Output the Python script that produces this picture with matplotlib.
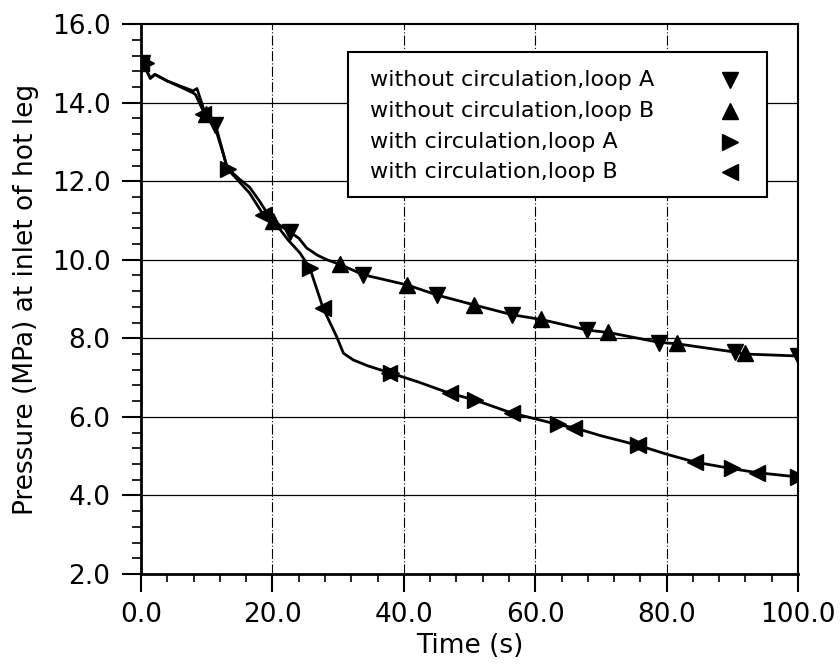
import numpy as np
import matplotlib.pyplot as plt
from matplotlib.patches import Rectangle

# pressure curves
t_without = [0, 0.6, 1.4, 2.1, 4.0, 6.0, 7.9, 8.5, 9.7, 11.3, 12.2, 13.1, 15.0, 16.5,
             18.0, 19.6, 20.5, 22.7, 24.0, 25.2, 26.8, 28.3, 30.3, 33.8, 40.5, 45.1,
             50.7, 56.5, 60.9, 67.9, 71.1, 78.8, 81.6, 90.4, 92.0, 100.0]
p_without = [15.05, 14.9, 14.62, 14.72, 14.55, 14.42, 14.3, 14.36, 13.75, 13.45, 12.9,
             12.33, 12.05, 11.85, 11.5, 11.08, 10.95, 10.7, 10.55, 10.3, 10.12, 10.0,
             9.88, 9.62, 9.36, 9.1, 8.85, 8.6, 8.48, 8.21, 8.15, 7.9, 7.86, 7.65, 7.6, 7.55]

t_with = [0, 0.6, 1.4, 2.1, 4.0, 6.0, 7.9, 8.3, 9.7, 11.3, 12.5, 13.2, 14.6, 16.5,
          18.6, 20.1, 22.4, 24.2, 25.7, 27.7, 29.8, 30.8, 32.3, 34.5, 37.9, 42.0,
          47.0, 50.8, 56.4, 60.0, 63.6, 66.0, 70.0, 75.6, 80.0, 84.3, 90.0, 93.8, 100.0]
p_with = [15.05, 14.9, 14.62, 14.72, 14.55, 14.4, 14.25, 14.2, 13.7, 13.35, 12.7,
          12.3, 12.05, 11.7, 11.15, 11.0, 10.5, 10.17, 9.78, 8.77, 8.03, 7.62, 7.45,
          7.3, 7.12, 6.9, 6.6, 6.43, 6.1, 5.95, 5.8, 5.72, 5.52, 5.28, 5.05, 4.85,
          4.68, 4.58, 4.47]

# marker positions for each series
t_mk_woA = [0.2, 11.3, 22.7, 33.8, 45.1, 56.5, 67.9, 78.8, 90.4, 100.0]
p_mk_woA = [15.0, 13.43, 10.7, 9.62, 9.1, 8.6, 8.21, 7.88, 7.64, 7.56]
t_mk_woB = [0, 9.9, 20.1, 30.3, 40.5, 50.7, 60.9, 71.1, 81.6, 92.0]
p_mk_woB = [15.0, 13.7, 11.0, 9.88, 9.36, 8.85, 8.49, 8.16, 7.87, 7.62]
t_mk_wA = [0.7, 13.2, 25.7, 38.0, 50.8, 63.5, 75.6, 90.0, 100.0]
p_mk_wA = [15.0, 12.3, 9.78, 7.12, 6.43, 5.82, 5.28, 4.69, 4.47]
t_mk_wB = [0, 9.4, 18.6, 27.7, 37.8, 47.0, 56.4, 65.9, 75.6, 84.3, 93.8]
p_mk_wB = [15.0, 13.72, 11.13, 8.77, 7.12, 6.6, 6.1, 5.72, 5.28, 4.85, 4.57]

labels = ["without circulation,loop A", "without circulation,loop B",
          "with circulation,loop A", "with circulation,loop B"]
markers = ["v", "^", ">", "<"]

plt.rcParams['font.family'] = 'DejaVu Sans'

fig = plt.figure(figsize=(8.4, 6.7), dpi=100)
ax = fig.add_axes([0.168, 0.1433, 0.782, 0.8207])

ax.plot(t_without, p_without, color='black', lw=2.0)
ax.plot(t_with, p_with, color='black', lw=2.0)

mk_sets = [(t_mk_woA, p_mk_woA), (t_mk_woB, p_mk_woB), (t_mk_wA, p_mk_wA), (t_mk_wB, p_mk_wB)]
for (tt, pp), m in zip(mk_sets, markers):
    ax.plot(tt, pp, ls='none', marker=m, ms=11, color='black', clip_on=True)

ax.set_xlim(0, 100)
ax.set_ylim(2, 16)
ax.set_xticks(np.arange(0, 101, 20))
ax.set_xticks(np.arange(0, 101, 4), minor=True)
ax.set_yticks(np.arange(2, 16.1, 2))
ax.set_yticks(np.arange(2, 16.1, 0.4), minor=True)
ax.set_xticklabels([f"{v:.1f}" for v in np.arange(0, 101, 20)])
ax.set_yticklabels([f"{v:.1f}" for v in np.arange(2, 16.1, 2)])

ax.tick_params(axis='both', which='major', labelsize=19, direction='out', width=1.5, color='black')
ax.tick_params(axis='y', which='major', length=14, pad=8)
ax.tick_params(axis='x', which='major', length=13, pad=7)
ax.tick_params(axis='y', which='minor', length=6.5, width=1.2, direction='out')
ax.tick_params(axis='x', which='minor', length=5.5, width=1.2, direction='out')

for y in np.arange(4, 15, 2):
    ax.axhline(y, color='black', lw=0.9, zorder=0)
for x in np.arange(20, 81, 20):
    ax.axvline(x, color='black', lw=0.8, ls=(0, (9, 2, 1, 2)), zorder=0)

for side in ['left', 'bottom']:
    ax.spines[side].set_linewidth(2.0)
for side in ['top', 'right']:
    ax.spines[side].set_linewidth(1.5)

ax.set_xlabel("Time (s)", fontsize=19, labelpad=4)
ax.set_ylabel("Pressure (MPa) at inlet of hot leg", fontsize=19, labelpad=9)

# legend box drawn by hand: text left aligned, marker at the right
ax.add_patch(Rectangle((0.315, 0.685), 0.638, 0.264, transform=ax.transAxes,
                       facecolor='white', edgecolor='black', lw=1.5, zorder=5))
row_y = [0.898, 0.842, 0.786, 0.731]
for lab, m, ry in zip(labels, markers, row_y):
    ax.text(0.349, ry, lab, transform=ax.transAxes, fontsize=16,
            va='center', ha='left', zorder=6)
    ax.plot([0.896], [ry], transform=ax.transAxes, ls='none', marker=m,
            ms=11, color='black', zorder=6, clip_on=False)

fig.savefig("out.png", dpi=100)
